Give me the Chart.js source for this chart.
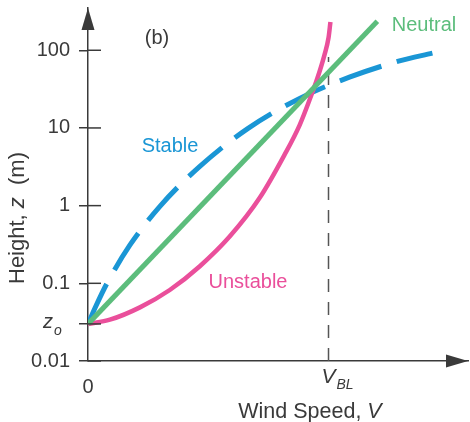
<!DOCTYPE html>
<html lang="en">
<head>
    <meta charset="UTF-8">
    <title>Wind speed profiles</title>
    <script src="https://cdn.jsdelivr.net/npm/chart.js"></script>
    <style>
        body {
            margin: 0;
            background: #fff;
        }
        #wrap {
            width: 470px;
            height: 422px;
        }
    </style>
</head>
<body>
    <div id="wrap"><canvas id="myChart"></canvas></div>
    <script>
        // values (x: wind speed, V_BL = 10; y: height in m)
        const neutralV = [0, 12.03];
        const neutralZ = [0.03, 237];

        const stableV = [0, 0.33, 0.79, 1.74, 2.99, 4.65, 6.64, 8.8, 10.87, 12.95, 14.32];
        const stableZ = [0.03, 0.051, 0.1, 0.31, 0.98, 3.2, 9.8, 24, 45, 73, 92];

        const unstableV = [0, 0.91, 2.16, 3.4, 4.65, 5.89, 7.14, 8.17, 8.8, 9.21, 9.54, 9.83, 10.0, 10.08];
        const unstableZ = [0.03, 0.034, 0.049, 0.082, 0.166, 0.4, 1.26, 4.5, 10.9, 22.9, 43.9, 86.7, 144, 231];

        const vblV = [10, 10];
        const vblZ = [0.01, 82];

        const yTickValues = [0.01, 0.03, 0.1, 1, 10, 100];
        const yTickLabels = ['0.01', '', '0.1', '1', '10', '100'];
        const xTickValues = [0, 10];
        const xTickLabels = ['0', ''];

        const BLUE = '#1a96d5';
        const GREEN = '#5cbd7c';
        const PINK = '#ea4f9b';
        const INK = '#3a3a3a';
        const FONT = '"Liberation Sans", Arial, sans-serif';

        Chart.defaults.font.family = FONT;

        function pts(xs, ys) {
            return xs.map((x, i) => ({ x: x, y: ys[i] }));
        }

        // draws pieces of text in a row, mixing upright and italic, centred on cx
        function mixedText(ctx, parts, size, cx, y) {
            let total = 0;
            parts.forEach(p => {
                ctx.font = p[1] + size + 'px ' + FONT;
                total += ctx.measureText(p[0]).width;
            });
            let px = cx - total / 2;
            parts.forEach(p => {
                ctx.font = p[1] + size + 'px ' + FONT;
                ctx.fillText(p[0], px, y);
                px += ctx.measureText(p[0]).width;
            });
        }

        // draws the bits chart.js has no option for: arrows, inner ticks, italic labels
        const decor = {
            id: 'decor',
            afterDraw(chart) {
                const ctx = chart.ctx;
                const xs = chart.scales.x;
                const ys = chart.scales.y;
                const x0 = xs.getPixelForValue(0);
                const yb = ys.getPixelForValue(0.01);
                const top = chart.chartArea.top;
                const right = chart.chartArea.right;

                ctx.save();
                ctx.strokeStyle = INK;
                ctx.fillStyle = INK;
                ctx.lineWidth = 1.5;

                // tick marks poking into the plot
                yTickValues.forEach(v => {
                    const y = ys.getPixelForValue(v);
                    ctx.beginPath();
                    ctx.moveTo(x0, y);
                    ctx.lineTo(x0 + 13, y);
                    ctx.stroke();
                });

                // arrow heads
                ctx.beginPath();
                ctx.moveTo(x0, top);
                ctx.lineTo(x0 - 6.5, top + 22);
                ctx.lineTo(x0 + 6.5, top + 22);
                ctx.closePath();
                ctx.fill();
                ctx.beginPath();
                ctx.moveTo(right, yb);
                ctx.lineTo(right - 22, yb - 6.5);
                ctx.lineTo(right - 22, yb + 6.5);
                ctx.closePath();
                ctx.fill();

                // z_o tick label
                const yz = ys.getPixelForValue(0.03);
                ctx.textBaseline = 'alphabetic';
                ctx.textAlign = 'left';
                ctx.font = 'italic 20px ' + FONT;
                ctx.fillText('z', 43, yz + 4);
                ctx.font = 'italic 14px ' + FONT;
                ctx.fillText('o', 54, yz + 11);

                // V_BL tick label
                const xv = xs.getPixelForValue(10);
                ctx.font = 'italic 21px ' + FONT;
                ctx.fillText('V', xv - 7, yb + 22);
                ctx.font = 'italic 14px ' + FONT;
                ctx.fillText('BL', xv + 8, yb + 28);

                // axis titles
                mixedText(ctx, [['Wind Speed, ', ''], ['V', 'italic ']], 21.5, 310, 418);
                ctx.save();
                ctx.translate(24, 218);
                ctx.rotate(-Math.PI / 2);
                mixedText(ctx, [['Height, ', ''], ['z', 'italic '], ['  (m)', '']], 22, 0, 0);
                ctx.restore();

                // curve names and panel letter
                ctx.textAlign = 'center';
                ctx.font = '20px ' + FONT;
                ctx.fillStyle = INK;
                ctx.fillText('(b)', 157, 44);
                ctx.fillStyle = BLUE;
                ctx.fillText('Stable', 170, 152);
                ctx.fillStyle = GREEN;
                ctx.fillText('Neutral', 424, 31);
                ctx.fillStyle = PINK;
                ctx.fillText('Unstable', 248, 288);
                ctx.restore();
            }
        };

        const config = {
            type: 'line',
            data: {
                datasets: [
                    {
                        label: 'Neutral',
                        data: pts(neutralV, neutralZ),
                        borderColor: GREEN,
                        borderWidth: 5,
                        pointRadius: 0,
                        order: 1
                    },
                    {
                        label: 'Unstable',
                        data: pts(unstableV, unstableZ),
                        borderColor: PINK,
                        borderWidth: 4.5,
                        pointRadius: 0,
                        cubicInterpolationMode: 'monotone',
                        order: 2
                    },
                    {
                        label: 'Stable',
                        data: pts(stableV, stableZ),
                        borderColor: BLUE,
                        borderWidth: 5,
                        borderDash: [44, 16],
                        pointRadius: 0,
                        cubicInterpolationMode: 'monotone',
                        order: 3
                    },
                    {
                        label: 'V_BL',
                        data: pts(vblV, vblZ),
                        borderColor: '#555',
                        borderWidth: 1.5,
                        borderDash: [13, 10],
                        pointRadius: 0,
                        order: 4
                    }
                ]
            },
            options: {
                responsive: true,
                maintainAspectRatio: false,
                animation: false,
                layout: {
                    padding: { left: 0, right: 2, top: 8, bottom: 0 }
                },
                plugins: {
                    legend: { display: false },
                    tooltip: { enabled: false }
                },
                scales: {
                    x: {
                        type: 'linear',
                        min: 0,
                        max: 15.8,
                        afterBuildTicks: (s) => { s.ticks = xTickValues.map(v => ({ value: v })); },
                        afterFit: (s) => {
                            s.height = 61;
                            s.paddingLeft = 0;
                            s.paddingRight = 0;
                        },
                        ticks: {
                            autoSkip: false,
                            maxRotation: 0,
                            padding: 14,
                            color: INK,
                            font: { size: 20 },
                            callback: (v) => xTickLabels[xTickValues.indexOf(v)]
                        },
                        grid: { display: true, drawOnChartArea: false, drawTicks: false },
                        border: { color: INK, width: 1.5 }
                    },
                    y: {
                        type: 'logarithmic',
                        min: 0.01,
                        max: 350,
                        afterBuildTicks: (s) => { s.ticks = yTickValues.map(v => ({ value: v })); },
                        afterFit: (s) => {
                            s.width = 88;
                            s.paddingTop = 0;
                            s.paddingBottom = 0;
                        },
                        ticks: {
                            autoSkip: false,
                            padding: 9,
                            color: INK,
                            font: { size: 20 },
                            callback: (v) => yTickLabels[yTickValues.indexOf(v)]
                        },
                        grid: { drawOnChartArea: false, tickLength: 9, color: INK, lineWidth: 1.5 },
                        border: { color: INK, width: 1.5 }
                    }
                }
            },
            plugins: [decor]
        };

        const myChart = new Chart(document.getElementById('myChart').getContext('2d'), config);
    </script>
</body>
</html>
